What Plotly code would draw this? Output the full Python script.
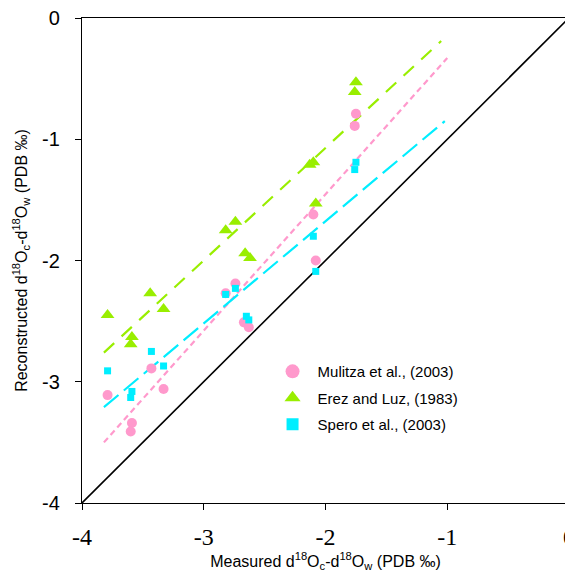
import plotly.graph_objects as go

# Mulitza et al. (2003)
mul_x = [-3.79, -3.59, -3.60, -3.43, -3.33, -2.82, -2.74, -2.67, -2.63, -2.10, -2.08, -1.75, -1.76]
mul_y = [-3.11, -3.34, -3.41, -2.89, -3.06, -2.27, -2.19, -2.51, -2.55, -1.62, -2.00, -0.79, -0.89]
# Erez and Luz (1983)
erez_x = [-3.79, -3.59, -3.60, -3.44, -3.33, -2.82, -2.74, -2.66, -2.62, -2.13, -2.10, -2.08, -1.75, -1.76]
erez_y = [-2.45, -2.63, -2.69, -2.27, -2.40, -1.75, -1.68, -1.94, -1.98, -1.21, -1.19, -1.53, -0.53, -0.61]
# Spero et al. (2003)
spero_x = [-3.79, -3.59, -3.60, -3.43, -3.33, -2.82, -2.74, -2.65, -2.63, -1.75, -1.76, -2.10, -2.08]
spero_y = [-2.91, -3.08, -3.13, -2.75, -2.87, -2.28, -2.23, -2.46, -2.49, -1.19, -1.25, -1.80, -2.09]

# regression lines (end points)
fit_x = [-3.82, -1.05]
erez_fit_y = [-2.76, -0.19]
mul_fit_x = [-3.82, -1.0]
mul_fit_y = [-3.50, -0.33]
spero_fit_x = [-3.82, -1.02]
spero_fit_y = [-3.21, -0.85]
one_to_one = [-4, 0]

x_ticks = [-4, -3, -2, -1, 0]
y_ticks = [-4, -3, -2, -1, 0]

PINK = "#ff99cc"
GREEN = "#99ee00"
CYAN = "#00eeff"

fig = go.Figure()
fig.add_trace(go.Scatter(x=one_to_one, y=one_to_one, mode="lines",
                         line=dict(color="black", width=1.6), showlegend=False))
fig.add_trace(go.Scatter(x=fit_x, y=erez_fit_y, mode="lines",
                         line=dict(color=GREEN, width=2.2, dash="14px,10px"), showlegend=False))
fig.add_trace(go.Scatter(x=mul_fit_x, y=mul_fit_y, mode="lines",
                         line=dict(color=PINK, width=2.2, dash="6px,4px"), showlegend=False))
fig.add_trace(go.Scatter(x=spero_fit_x, y=spero_fit_y, mode="lines",
                         line=dict(color=CYAN, width=2.2, dash="19px,7px"), showlegend=False))

fig.add_trace(go.Scatter(x=mul_x, y=mul_y, mode="markers",
                         marker=dict(symbol="circle", size=10, color=PINK), showlegend=False))
fig.add_trace(go.Scatter(x=erez_x, y=erez_y, mode="markers",
                         marker=dict(symbol="triangle-up", size=12, color=GREEN), showlegend=False))
fig.add_trace(go.Scatter(x=spero_x, y=spero_y, mode="markers",
                         marker=dict(symbol="square", size=7, color=CYAN), showlegend=False))

# legend entries
fig.add_trace(go.Scatter(x=[None], y=[None], mode="markers", name="Mulitza et al., (2003)",
                         legendgroup="a", marker=dict(symbol="circle", size=14, color=PINK)))
fig.add_trace(go.Scatter(x=[None], y=[None], mode="markers", name="Erez and Luz, (1983)",
                         legendgroup="b", marker=dict(symbol="triangle-up", size=14, color=GREEN)))
fig.add_trace(go.Scatter(x=[None], y=[None], mode="markers", name="Spero et al., (2003)",
                         legendgroup="c", marker=dict(symbol="square", size=12, color=CYAN)))

fig.update_layout(
    width=565, height=571,
    margin=dict(l=74, r=4, t=10, b=76),
    plot_bgcolor="white", paper_bgcolor="white",
    legend=dict(x=0.381, y=0.305, xanchor="left", yanchor="top",
                font=dict(family="Liberation Sans, Arial", size=15, color="black"),
                bgcolor="rgba(0,0,0,0)", tracegroupgap=4, itemsizing="trace", itemwidth=40),
    xaxis=dict(range=[-4, 0], tickvals=x_ticks, ticktext=[str(v) for v in x_ticks],
               automargin=False, ticklabeloverflow="allow", ticklabelstandoff=6,
               showgrid=False, zeroline=False, showline=True, linecolor="black", linewidth=1.2,
               mirror=True, ticks="outside", ticklen=6, tickcolor="black",
               tickfont=dict(family="'Liberation Serif', 'Times New Roman', Times, serif",
                             size=24, color="black"),
               title=dict(text="Measured d<sup>18</sup>O<sub>c</sub>-d<sup>18</sup>O<sub>w</sub> (PDB ‰)",
                          font=dict(family="Liberation Sans, Arial", size=16, color="black"),
                          standoff=6)),
    yaxis=dict(range=[-4, 0], tickvals=y_ticks, ticktext=[str(v) for v in y_ticks],
               automargin=False, ticklabeloverflow="allow", ticklabelstandoff=11,
               showgrid=False, zeroline=False, showline=True, linecolor="black", linewidth=1.2,
               mirror=True, ticks="outside", ticklen=6, tickcolor="black",
               tickfont=dict(family="Liberation Sans, Arial", size=20, color="black"),
               title=dict(text="Reconstructed d<sup>18</sup>O<sub>c</sub>-d<sup>18</sup>O<sub>w</sub> (PDB ‰)",
                          font=dict(family="Liberation Sans, Arial", size=16, color="black"),
                          standoff=10)),
)

fig.write_html("out.html")
